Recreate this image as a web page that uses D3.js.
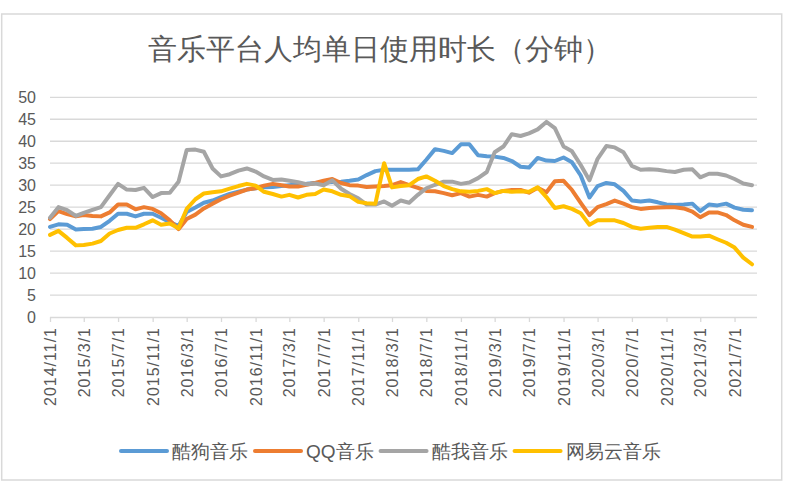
<!DOCTYPE html>
<html>
<head>
<meta charset="utf-8">
<script src="https://cdn.jsdelivr.net/npm/d3@7"></script>
<style>
body { margin: 0; background: #fff; }
text { font-family: "Liberation Sans", Arial, sans-serif; }
</style>
</head>
<body>
<div id="chart"></div>
<script>
// monthly data, 2014/11 .. 2021/9
var months = d3.timeMonth.range(new Date(2014, 10, 1), new Date(2021, 9, 1));

var tickLabels = ["2014/11/1","2015/3/1","2015/7/1","2015/11/1","2016/3/1","2016/7/1",
    "2016/11/1","2017/3/1","2017/7/1","2017/11/1","2018/3/1","2018/7/1","2018/11/1",
    "2019/3/1","2019/7/1","2019/11/1","2020/3/1","2020/7/1","2020/11/1","2021/3/1","2021/7/1"];

var yTicks = [0,5,10,15,20,25,30,35,40,45,50];

var seriesNames = ["酷狗音乐","QQ音乐","酷我音乐","网易云音乐"];
var seriesColors = ["#5b9bd5","#ed7d31","#a5a5a5","#ffc000"];

var kugou = [20.5,21.1,21.0,19.9,20.0,20.1,20.5,21.9,23.5,23.5,22.9,23.5,23.5,22.6,21.6,20.7,
    23.9,24.9,26.0,26.5,27.3,28.0,28.5,29.0,29.3,29.5,29.6,29.8,30.0,30.2,30.3,30.5,30.6,30.7,
    30.8,31.0,31.3,32.3,33.2,33.5,33.5,33.5,33.5,33.6,35.8,38.2,37.8,37.3,39.3,39.3,36.8,36.6,
    36.5,36.2,35.5,34.2,34.0,36.2,35.6,35.5,36.3,35.2,32.2,27.2,29.8,30.5,30.2,28.7,26.5,26.3,
    26.5,26.1,25.6,25.5,25.6,25.8,24.1,25.6,25.4,25.8,24.9,24.4,24.3];

var qq = [22.3,24.1,23.4,22.9,23.2,23.0,22.9,23.8,25.6,25.6,24.5,25.0,24.6,23.6,22.0,20.0,
    22.3,23.3,24.7,25.8,26.8,27.6,28.3,29.0,29.3,29.9,30.3,30.0,29.7,29.7,30.1,30.5,31.0,31.4,
    30.5,30.0,29.9,29.6,29.7,29.8,30.0,30.7,30.0,29.4,28.7,28.6,28.2,27.7,28.2,27.4,27.8,27.4,
    28.2,28.7,28.9,28.9,28.3,29.4,28.4,30.9,31.0,28.9,26.0,23.2,25.0,25.7,26.5,25.8,25.0,24.6,
    24.8,24.9,25.0,25.0,24.7,24.0,22.7,23.8,23.8,23.2,22.0,21.0,20.5];

var kuwo = [22.6,25.0,24.3,23.0,23.7,24.4,25.0,27.7,30.3,29.0,28.9,29.4,27.3,28.2,28.3,30.8,
    38.0,38.1,37.6,33.8,32.0,32.5,33.3,33.8,33.1,32.0,31.2,31.3,31.0,30.7,30.2,30.4,30.0,31.1,
    29.2,28.0,27.0,25.6,25.6,26.3,25.3,26.5,26.0,27.8,29.3,30.1,30.8,30.8,30.3,30.6,31.6,33.0,
    37.5,38.8,41.6,41.2,41.8,42.7,44.4,43.0,38.8,37.7,34.6,31.1,36.0,38.9,38.6,37.5,34.4,33.5,
    33.6,33.5,33.2,33.0,33.5,33.6,31.8,32.6,32.6,32.2,31.4,30.4,30.0];

var netease = [18.7,19.6,18.0,16.3,16.4,16.7,17.3,19.0,19.8,20.3,20.3,21.1,22.0,21.0,21.3,20.2,
    24.6,26.8,28.1,28.4,28.6,29.2,29.8,30.3,29.9,28.5,28.0,27.4,27.8,27.2,27.8,28.0,29.0,28.6,
    27.8,27.5,26.2,25.9,25.8,35.0,29.5,29.8,30.0,31.4,32.0,31.0,29.8,29.1,28.6,28.5,28.7,29.1,
    28.2,28.7,28.5,28.6,28.5,29.5,27.3,24.8,25.2,24.6,23.6,21.0,22.0,22.0,22.0,21.4,20.5,20.1,
    20.3,20.5,20.5,19.9,19.1,18.3,18.3,18.5,17.7,16.9,15.8,13.5,12.0];

var seriesValues = [kugou, qq, kuwo, netease];

var W = 792, H = 486;
var m = {l: 50, r: 757, t: 97.3, b: 317};

var svg = d3.select("#chart").append("svg")
    .attr("width", W).attr("height", H);

// frame
svg.append("rect")
    .attr("x", 1.7).attr("y", 14)
    .attr("width", 780).attr("height", 466)
    .attr("fill", "none").attr("stroke", "#d9d9d9").attr("stroke-width", 1.5);

var parse = d3.timeParse("%Y/%m/%d");

var x = d3.scaleTime()
    .domain([months[0], months[months.length - 1]])
    .range([50, 752]);

var y = d3.scaleLinear().domain([0, 50]).range([m.b, m.t]);

// gridlines
svg.append("g").selectAll("line")
    .data(yTicks.filter(function(d){ return d > 0; }))
    .enter().append("line")
    .attr("x1", m.l).attr("x2", m.r)
    .attr("y1", function(d){ return y(d); })
    .attr("y2", function(d){ return y(d); })
    .attr("stroke", "#d9d9d9").attr("stroke-width", 1.3);

// y labels
svg.append("g").selectAll("text")
    .data(yTicks)
    .enter().append("text")
    .attr("x", 36)
    .attr("y", function(d){ return y(d); })
    .attr("text-anchor", "end")
    .attr("dominant-baseline", "central")
    .attr("font-size", 16)
    .attr("fill", "#595959")
    .text(function(d){ return d; });

// x axis
var xAxis = d3.axisBottom(x)
    .tickValues(tickLabels.map(parse))
    .tickSize(5)
    .tickFormat(d3.timeFormat("%Y/%-m/%-d"));

var gx = svg.append("g")
    .attr("transform", "translate(0," + m.b + ")")
    .call(xAxis);
gx.select(".domain").attr("d", "M" + m.l + ",0.5H" + m.r).attr("stroke", "#d9d9d9").attr("stroke-width", 1.3);
gx.selectAll(".tick line").attr("stroke", "#d9d9d9").attr("stroke-width", 1.3);
gx.selectAll(".tick text")
    .attr("transform", "rotate(-90)")
    .attr("x", -10).attr("y", 0).attr("dy", null)
    .attr("text-anchor", "end")
    .attr("dominant-baseline", "central")
    .attr("font-size", 16)
    .attr("font-family", "Liberation Sans, Arial, sans-serif")
    .style("letter-spacing", "1px")
    .attr("fill", "#595959");

// lines
var line = d3.line()
    .x(function(d, i){ return x(months[i]); })
    .y(function(d){ return y(d); });

svg.append("g").selectAll("path")
    .data(seriesValues)
    .enter().append("path")
    .attr("d", line)
    .attr("fill", "none")
    .attr("stroke", function(d, i){ return seriesColors[i]; })
    .attr("stroke-width", 4)
    .attr("stroke-linejoin", "round")
    .attr("stroke-linecap", "round");

// title
svg.append("text")
    .attr("x", 148).attr("y", 59)
    .attr("font-family", "Noto Sans CJK SC")
    .attr("font-size", 29)
    .attr("fill", "#595959")
    .text("音乐平台人均单日使用时长（分钟）");

// legend
var legend = svg.append("g");
var lx = 121;
seriesNames.forEach(function(name, i){
    legend.append("line")
        .attr("x1", lx).attr("x2", lx + 46)
        .attr("y1", 451).attr("y2", 451)
        .attr("stroke", seriesColors[i])
        .attr("stroke-width", 4)
        .attr("stroke-linecap", "round");
    var t = legend.append("text")
        .attr("x", lx + 51).attr("y", 451)
        .attr("dominant-baseline", "central")
        .attr("font-family", "Noto Sans CJK SC")
        .attr("font-size", 19)
        .attr("fill", "#595959")
        .text(name);
    lx = lx + 51 + t.node().getComputedTextLength() + 7;
});
</script>
</body>
</html>
